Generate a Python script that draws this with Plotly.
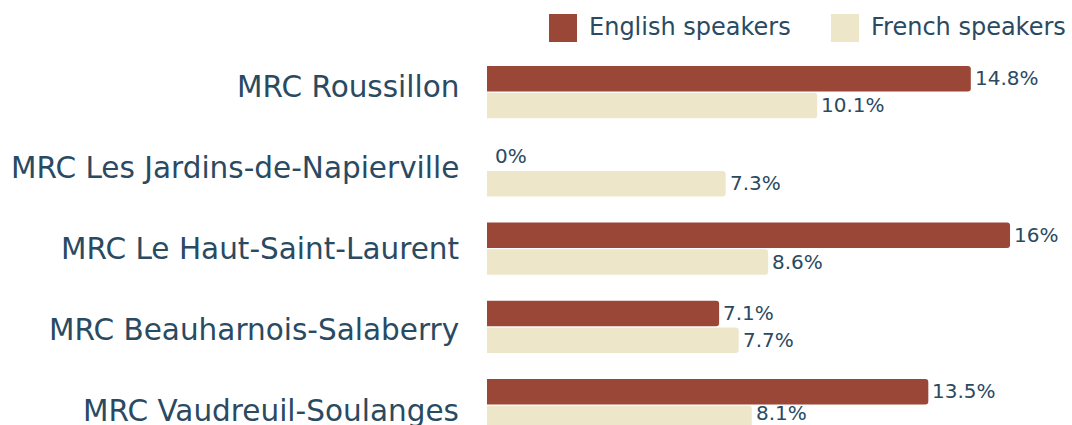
import plotly.graph_objects as go

categories = ["MRC Roussillon", "MRC Les Jardins-de-Napierville", "MRC Le Haut-Saint-Laurent",
              "MRC Beauharnois-Salaberry", "MRC Vaudreuil-Soulanges"]
english = [14.8, 0, 16, 7.1, 13.5]
french = [10.1, 7.3, 8.6, 7.7, 8.1]
series_names = ["English speakers", "French speakers"]

EN_COL = "#9a4737"
FR_COL = "#ede6c9"
TXT = "#2a4a62"
FONT = "DejaVu Sans"

L, T, PW, PH = 487, 53, 585, 372   # plot area in screen pixels

fig = go.Figure()
for name, vals, col in [(series_names[0], english, EN_COL), (series_names[1], french, FR_COL)]:
    fig.add_trace(go.Bar(
        y=categories, x=vals, name=name, orientation="h",
        marker=dict(color=col, line=dict(width=0), cornerradius=3),
        showlegend=False, hoverinfo="x+y",
    ))

n = len(categories)
for i, (cat, e, f) in enumerate(zip(categories, english, french)):
    # category labels (slightly spread relative to bar groups, as in the original)
    fig.add_annotation(x=0, y=cat, xref="x", yref="y", text=cat, showarrow=False,
                       xanchor="right", yanchor="middle", xshift=-26,
                       yshift=5.5 - 2.9 * i,
                       font=dict(family=FONT, size=29.5, color=TXT))
    # value labels
    fig.add_annotation(x=e, y=cat, xref="x", yref="y", text=f"{e:g}%", showarrow=False,
                       xanchor="left", yanchor="middle", xshift=2 if e > 0 else 6, yshift=14,
                       font=dict(family=FONT, size=20, color=TXT))
    ys = -13 if i < n - 1 else -8
    fig.add_annotation(x=f, y=cat, xref="x", yref="y", text=f"{f:g}%", showarrow=False,
                       xanchor="left", yanchor="middle", xshift=2, yshift=ys,
                       font=dict(family=FONT, size=20, color=TXT))

# legend drawn manually (large square swatches)
leg = [(series_names[0], EN_COL, 549), (series_names[1], FR_COL, 831)]
for name, col, px in leg:
    fig.add_shape(type="rect", xref="paper", yref="paper",
                  x0=(px - L) / PW, x1=(px + 28 - L) / PW,
                  y0=(T + PH - 42) / PH, y1=(T + PH - 14) / PH,
                  fillcolor=col, line=dict(width=0))
    fig.add_annotation(xref="paper", yref="paper", x=(px + 38 - L) / PW, y=(T + PH - 27) / PH,
                       text=name, showarrow=False, xanchor="left", yanchor="middle",
                       font=dict(family=FONT, size=24, color=TXT))

fig.update_layout(
    width=1072, height=425,
    margin=dict(l=L, r=0, t=T, b=0, pad=0),
    barmode="group", bargap=0.32, bargroupgap=0.04,
    plot_bgcolor="white", paper_bgcolor="white",
    font=dict(family=FONT, color=TXT),
    xaxis=dict(range=[0, PW / 32.69], visible=False, fixedrange=True),
    yaxis=dict(range=[4.254, -0.5], showgrid=False, zeroline=False, showline=False,
               ticks="", showticklabels=False, fixedrange=True),
)
fig.write_html("out.html", config={"displayModeBar": False},
               post_script="document.body.style.margin='0';document.body.style.overflow='hidden';")
